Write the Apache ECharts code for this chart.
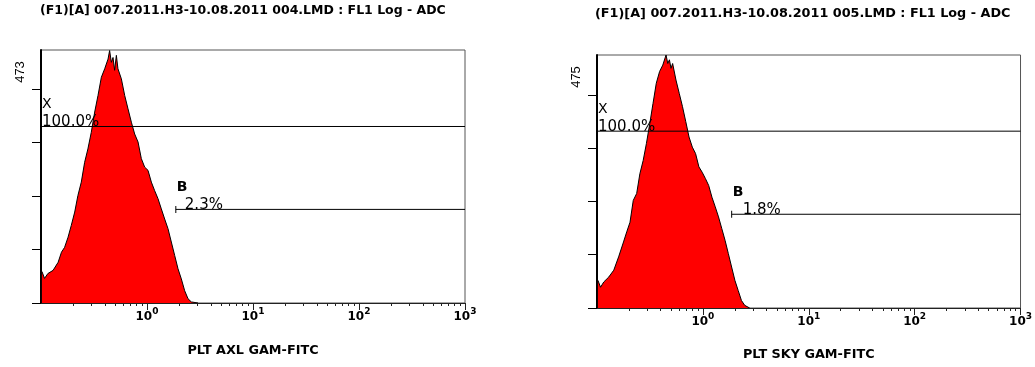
<!DOCTYPE html>
<html>
<head>
<meta charset="utf-8">
<script src="https://cdn.jsdelivr.net/npm/echarts@6/dist/echarts.min.js"></script>
<style>
html,body{margin:0;padding:0;background:#fff;}
#c{width:1035px;height:367px;}
</style>
</head>
<body>
<div id="c"></div>
<script>
// ---- data ----
const titles = [
  '(F1)[A] 007.2011.H3-10.08.2011 004.LMD : FL1 Log - ADC',
  '(F1)[A] 007.2011.H3-10.08.2011 005.LMD : FL1 Log - ADC'
];
const axisNames = ['PLT AXL GAM-FITC', 'PLT SKY GAM-FITC'];
const yMaxCounts = [473, 475];
const yTickValues = [0, 100, 200, 300, 400];
const xTickValues = [1, 10, 100, 1000];
const xTickExponents = ['0', '1', '2', '3'];
const xMinorTicks = [0.2,0.3,0.4,0.5,0.6,0.7,0.8,0.9, 2,3,4,5,6,7,8,9, 20,30,40,50,60,70,80,90, 200,300,400,500,600,700,800,900];

const leftChannels = [0.102,0.108,0.116,0.130,0.145,0.156,0.167,0.180,0.193,0.208,0.223,0.240,0.258,0.277,0.298,0.321,0.345,0.371,0.399,0.429,0.444,0.461,0.478,0.495,0.514,0.532,0.573,0.616,0.662,0.712,0.765,0.823,0.884,0.951,1.022,1.099,1.181,1.270,1.365,1.468,1.578,1.696,1.824,1.961,2.108,2.266,2.437,2.620,3.028];
const leftCounts   = [59,46,55,61,76,95,104,123,145,170,201,226,263,288,319,357,388,422,438,456,472,450,459,435,463,438,419,388,363,338,316,301,270,254,248,226,210,195,176,157,139,114,89,64,45,23,8,2,0];

const rightChannels = [0.102,0.108,0.116,0.129,0.144,0.160,0.178,0.191,0.205,0.220,0.237,0.254,0.273,0.293,0.315,0.338,0.363,0.390,0.418,0.449,0.466,0.483,0.500,0.518,0.557,0.598,0.642,0.689,0.740,0.795,0.853,0.917,0.984,1.057,1.135,1.218,1.308,1.405,1.509,1.620,1.740,1.868,2.006,2.154,2.314,2.484,2.765];
const rightCounts   = [52,39,49,58,71,96,124,143,161,202,215,252,277,309,346,384,422,444,456,475,459,466,450,459,428,403,378,350,321,302,290,265,255,243,230,208,190,171,149,127,102,77,52,33,14,5,0];

const gateXLevels = [330, 332];
const gateBLevels = [175, 176];
const gateBStart = [1.87, 1.87];
const gateXNames = ['X', 'X'];
const gateXPercents = ['100.0%', '100.0%'];
const gateBNames = ['B', 'B'];
const gateBPercents = ['2.3%', '1.8%'];

// ---- layout ----
const grids = [
  {left: 41, top: 50, width: 424, height: 253},
  {left: 597, top: 55, width: 431, height: 253}
];
const titlePos = [{left: 40, top: 4, size: 12.5}, {left: 595, top: 7, size: 12.8}];
const nameGaps = [41, 40];
const bTextDx = [9, 11];

const chart = echarts.init(document.getElementById('c'), null, {renderer: 'canvas'});

const histX = [leftChannels, rightChannels];
const histY = [leftCounts, rightCounts];

const option = {
  backgroundColor: '#fff',
  animation: false,
  title: [0, 1].map(i => ({
    text: titles[i], left: titlePos[i].left, top: titlePos[i].top, padding: 0,
    textStyle: {fontFamily: 'DejaVu Sans', fontWeight: 'bold', fontSize: titlePos[i].size, color: '#000'}
  })),
  grid: grids.map(g => Object.assign({show: true, borderColor: '#555', borderWidth: 1, backgroundColor: 'transparent'}, g)),
  xAxis: [],
  yAxis: [],
  series: [],
  graphic: []
};

for (let i = 0; i < 2; i++) {
  option.xAxis.push({
    type: 'log', logBase: 10, min: 0.1, max: 1000, gridIndex: i, position: 'bottom',
    axisLine: {show: true, lineStyle: {color: '#222', width: 1}},
    axisTick: {show: true, length: 7, customValues: xTickValues, lineStyle: {color: '#222'}},
    axisLabel: {
      show: true, customValues: xTickValues, margin: 4,
      formatter: v => {
        let k = 0, best = 1e9;
        xTickValues.forEach((t, j) => { const d = Math.abs(Math.log10(t) - Math.log10(v)); if (d < best) { best = d; k = j; } });
        return '{b|10}{s|' + xTickExponents[k] + '}';
      },
      rich: {
        b: {fontFamily: 'DejaVu Sans', fontWeight: 'bold', fontSize: 12, color: '#000', verticalAlign: 'bottom', lineHeight: 16},
        s: {fontFamily: 'DejaVu Sans', fontWeight: 'bold', fontSize: 9, color: '#000', verticalAlign: 'top', lineHeight: 16}
      }
    },
    splitLine: {show: false},
    name: axisNames[i], nameLocation: 'middle', nameGap: nameGaps[i],
    nameTextStyle: {fontFamily: 'DejaVu Sans', fontWeight: 'bold', fontSize: 12.8, color: '#000'}
  });
  option.xAxis.push({
    type: 'log', logBase: 10, min: 0.1, max: 1000, gridIndex: i, position: 'bottom',
    axisLine: {show: false},
    axisTick: {show: true, length: 3, customValues: xMinorTicks, lineStyle: {color: '#222'}},
    axisLabel: {show: false},
    splitLine: {show: false}
  });
  option.yAxis.push({
    type: 'value', gridIndex: i, min: 0, max: yMaxCounts[i], interval: 100,
    axisLine: {show: true, lineStyle: {color: '#000', width: 2}},
    axisTick: {show: true, length: 9, customValues: yTickValues, lineStyle: {color: '#000'}},
    axisLabel: {show: false},
    splitLine: {show: false}
  });

  const xi = i * 2;
  option.series.push({
    type: 'line', xAxisIndex: xi, yAxisIndex: i, symbol: 'none', silent: true,
    data: histX[i].map((x, j) => [x, histY[i][j]]),
    lineStyle: {color: '#000', width: 1},
    areaStyle: {color: '#ff0000', opacity: 1}
  });
  option.series.push({
    type: 'line', xAxisIndex: xi, yAxisIndex: i, symbol: 'none', silent: true,
    data: [[0.1, gateXLevels[i]], [1000, gateXLevels[i]]],
    lineStyle: {color: '#000', width: 1},
    markPoint: {
      symbol: 'circle', symbolSize: 0, silent: true, animation: false,
      label: {show: true, position: 'inside', align: 'left', verticalAlign: 'middle', color: '#000', fontFamily: 'DejaVu Sans', fontSize: 15},
      data: [
        {coord: [0.1, gateXLevels[i]], label: {formatter: gateXNames[i], offset: [1, -22], fontSize: 14}},
        {coord: [0.1, gateXLevels[i]], label: {formatter: gateXPercents[i], offset: [1, -4]}}
      ]
    }
  });
  option.series.push({
    type: 'line', xAxisIndex: xi, yAxisIndex: i, symbol: 'none', showSymbol: true, silent: true,
    data: [
      {value: [gateBStart[i], gateBLevels[i]], symbol: 'rect', symbolSize: [1, 7], itemStyle: {color: '#000'}},
      {value: [1000, gateBLevels[i]], symbol: 'none'}
    ],
    lineStyle: {color: '#000', width: 1},
    markPoint: {
      symbol: 'circle', symbolSize: 0, silent: true, animation: false,
      label: {show: true, position: 'inside', align: 'left', verticalAlign: 'middle', color: '#000', fontFamily: 'DejaVu Sans', fontSize: 15},
      data: [
        {coord: [gateBStart[i], gateBLevels[i]], label: {formatter: gateBNames[i], offset: [1, -22], fontWeight: 'bold', fontSize: 14}},
        {coord: [gateBStart[i], gateBLevels[i]], label: {formatter: gateBPercents[i], offset: [bTextDx[i], -4]}}
      ]
    }
  });

  option.graphic.push({
    type: 'text', x: grids[i].left - 21, y: grids[i].top + 22, rotation: Math.PI / 2, silent: true,
    style: {text: String(yMaxCounts[i]), font: '13px "Liberation Sans"', align: 'center', verticalAlign: 'middle', fill: '#000'}
  });
}

chart.setOption(option);
</script>
</body>
</html>
